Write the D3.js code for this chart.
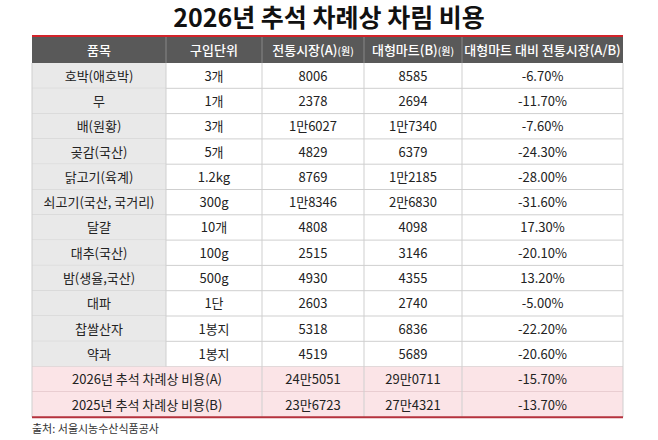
<!DOCTYPE html><html><head><meta charset="utf-8"><script src="https://cdn.jsdelivr.net/npm/d3@7"></script>
<style>body{margin:0;background:#fff}</style></head><body><svg id="c" width="658" height="440"></svg>
<script>
const headers=["품목","구입단위","전통시장(A)","대형마트(B)","대형마트 대비 전통시장(A/B)"];
const items=["호박(애호박)","무","배(원황)","곶감(국산)","닭고기(육계)","쇠고기(국산, 국거리)","달걀","대추(국산)","밤(생율,국산)","대파","찹쌀산자","약과"];
const units=["3개","1개","3개","5개","1.2kg","300g","10개","100g","500g","1단","1봉지","1봉지"];
const marketA=["8006","2378","1만6027","4829","8769","1만8346","4808","2515","4930","2603","5318","4519"];
const martB=["8585","2694","1만7340","6379","1만2185","2만6830","4098","3146","4355","2740","6836","5689"];
const ratio=["-6.70%","-11.70%","-7.60%","-24.30%","-28.00%","-31.60%","17.30%","-20.10%","13.20%","-5.00%","-22.20%","-20.60%"];
const totalLabels=["2026년 추석 차례상 비용(A)","2025년 추석 차례상 비용(B)"];
const totalA=["24만5051","23만6723"];
const totalB=["29만0711","27만4321"];
const totalR=["-15.70%","-13.70%"];

(function(){
const svg=d3.select("#c");
const F="'Noto Sans CJK KR','Noto Sans',sans-serif";
const cols=[32,166,262,364,462,623];
const top0=37,hh=26,rh=25.3;
const rowY=d3.scaleLinear().domain([0,1]).range([top0+hh,top0+hh+rh]);
svg.append("text").attr("x",329).attr("y",27).attr("text-anchor","middle").attr("font-family",F).attr("font-weight",700).attr("font-size",25).attr("fill","#111").text("2026년 추석 차례상 차림 비용");
svg.append("rect").attr("x",cols[0]).attr("y",top0).attr("width",cols[5]-cols[0]).attr("height",hh).attr("fill","#595959");
svg.append("line").attr("x1",cols[0]).attr("x2",cols[5]).attr("y1",top0-1).attr("y2",top0-1).attr("stroke","#d2232a").attr("stroke-width",2);
headers.forEach((h,i)=>{
  const t=svg.append("text").attr("x",(cols[i]+cols[i+1])/2).attr("y",top0+hh/2+5).attr("text-anchor","middle").attr("font-family",F).attr("font-size",13).attr("fill","#fff").attr("font-weight",500).text(h);
  if(i==2||i==3) t.append("tspan").attr("font-size",10).text("(원)");
});
for(let i=1;i<5;i++) svg.append("line").attr("x1",cols[i]).attr("x2",cols[i]).attr("y1",top0).attr("y2",top0+hh).attr("stroke","#888");
const all=items.map((d,i)=>[d,units[i],marketA[i],martB[i],ratio[i]]);
all.forEach((r,j)=>{
  const y=rowY(j);
  svg.append("rect").attr("x",cols[0]).attr("y",y).attr("width",cols[1]-cols[0]).attr("height",rh).attr("fill","#e9e9e9");
  r.forEach((v,i)=>svg.append("text").attr("x",(cols[i]+cols[i+1])/2).attr("y",y+rh/2+5).attr("text-anchor","middle").attr("font-family",F).attr("font-size",13).attr("fill","#222").text(v));
  svg.append("line").attr("x1",cols[0]).attr("x2",cols[5]).attr("y1",y+rh).attr("y2",y+rh).attr("stroke","#cfcfcf");
});
totalLabels.forEach((l,k)=>{
  const y=rowY(12+k);
  svg.append("rect").attr("x",cols[0]).attr("y",y).attr("width",cols[5]-cols[0]).attr("height",rh).attr("fill","#fbe4e7");
  [[l,0,2],[totalA[k],2,3],[totalB[k],3,4],[totalR[k],4,5]].forEach(([v,a,b])=>svg.append("text").attr("x",(cols[a]+cols[b])/2).attr("y",y+rh/2+5).attr("text-anchor","middle").attr("font-family",F).attr("font-size",13).attr("fill","#222").text(v));
  if(k==0) svg.append("line").attr("x1",cols[0]).attr("x2",cols[5]).attr("y1",y+rh).attr("y2",y+rh).attr("stroke","#d9b9bd");
});
const yEnd=rowY(14);
[0,1,2,3,4,5].forEach(i=>svg.append("line").attr("x1",cols[i]).attr("x2",cols[i]).attr("y1",top0+hh).attr("y2",i==1?rowY(12):yEnd).attr("stroke","#cfcfcf"));
svg.append("line").attr("x1",cols[0]).attr("x2",cols[5]).attr("y1",yEnd).attr("y2",yEnd).attr("stroke","#b5323d").attr("stroke-width",2);
svg.append("text").attr("x",cols[0]).attr("y",yEnd+16).attr("font-family",F).attr("font-size",11).attr("fill","#333").text("출처: 서울시농수산식품공사");
})();
</script></body></html>
